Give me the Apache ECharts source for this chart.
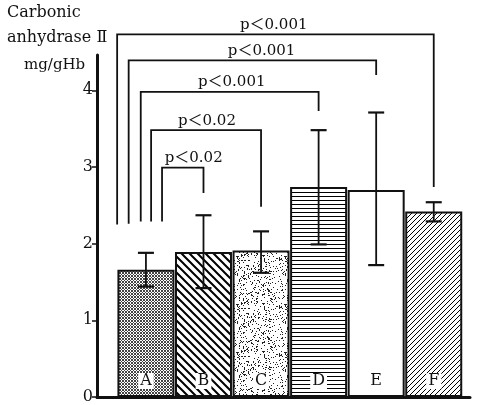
<!DOCTYPE html>
<html>
<head>
<meta charset="utf-8">
<title>Carbonic anhydrase II</title>
<script src="https://cdn.jsdelivr.net/npm/echarts@6/dist/echarts.min.js"></script>
<style>
html,body{margin:0;padding:0;background:#fff;}
#main{width:478px;height:405px;}
</style>
</head>
<body>
<div id="main"></div>
<script>
// groups and measured values (mg/gHb)
var groups = ['A', 'B', 'C', 'D', 'E', 'F'];
var means  = [1.66, 1.89, 1.91, 2.74, 2.70, 2.42];
var errLow = [1.44, 1.42, 1.62, 1.99, 1.72, 2.29];
var errHigh= [1.88, 2.37, 2.16, 3.48, 3.71, 2.54];
var yTicks = [0, 1, 2, 3, 4];

// significance brackets: from x (index units), to group index, top level, left foot, right foot, label x
var brFrom  = [-0.50, -0.30, -0.09, 0.09, 0.28];
var brTo    = [5, 4, 3, 2, 1];
var brTop   = [4.73, 4.39, 3.98, 3.48, 2.99];
var brLeft  = [2.25, 2.26, 2.29, 2.29, 2.29];
var brRight = [2.74, 4.20, 3.73, 2.48, 2.66];
var brText  = ['p＜0.001', 'p＜0.001', 'p＜0.001', 'p＜0.02', 'p＜0.02'];
var brTextX = [2.22, 2.01, 1.49, 1.06, 0.83];

var serif = '"DejaVu Serif","Liberation Serif","Noto Sans CJK JP",serif';

function tile(w, h, draw) {
	var c = document.createElement('canvas');
	c.width = w; c.height = h;
	var ctx = c.getContext('2d');
	ctx.fillStyle = '#fff';
	ctx.fillRect(0, 0, w, h);
	ctx.fillStyle = '#000';
	ctx.strokeStyle = '#000';
	draw(ctx);
	return {image: c, repeat: 'repeat'};
}

// fill patterns for the six bars
var patterns = [
	tile(3, 3, function (g) { // fine crosshatch dots
		g.fillStyle = '#444';
		g.fillRect(0, 0, 1, 1); g.fillRect(1, 1, 1, 1); g.fillRect(2, 2, 1, 1);
		g.fillRect(2, 0, 1, 1); g.fillRect(0, 2, 1, 1);
	}),
	tile(8, 8, function (g) { // backslash lines
		g.lineWidth = 2;
		g.beginPath();
		g.moveTo(-2, -2); g.lineTo(10, 10);
		g.moveTo(-10, -2); g.lineTo(2, 10);
		g.moveTo(6, -2); g.lineTo(18, 10);
		g.stroke();
	}),
	tile(48, 48, function (g) { // stipple
		var s = 12345;
		function next() {
			s ^= s << 13; s ^= s >>> 17; s ^= s << 5;
			return (s >>> 0) / 4294967296;
		}
		g.fillStyle = '#222';
		for (var i = 0; i < 360; i++) {
			var x = Math.floor(next() * 48);
			var y = Math.floor(next() * 48);
			g.fillRect(x, y, 1, 1);
		}
	}),
	tile(4, 4, function (g) { // horizontal lines
		g.fillRect(0, 0, 4, 1);
	}),
	'#fff',
	tile(5, 5, function (g) { // slash lines
		g.lineWidth = 1;
		g.beginPath();
		g.moveTo(-1, 6); g.lineTo(6, -1);
		g.moveTo(-6, 6); g.lineTo(1, -1);
		g.moveTo(4, 6); g.lineTo(11, -1);
		g.stroke();
	})
];

var barData = groups.map(function (name, i) {
	return {
		value: [i, means[i]],
		name: name,
		itemStyle: {color: patterns[i]}
	};
});

var errData = groups.map(function (n, i) { return [i, errLow[i], errHigh[i]]; });

var brData = brText.map(function (t, i) {
	return [brFrom[i], brTo[i], brTop[i], brLeft[i], brRight[i], brTextX[i], i];
});

var myChart = echarts.init(document.getElementById('main'), null, {renderer: 'canvas'});

var option = {
	animation: false,
	backgroundColor: '#fff',
	grid: {left: 97, right: 8, top: 55, bottom: 5},
	xAxis: {
		type: 'value',
		min: -0.85,
		max: 5.63,
		axisLine: {show: true, onZero: false, lineStyle: {color: '#111', width: 3}},
		axisTick: {show: false},
		axisLabel: {show: false},
		splitLine: {show: false}
	},
	yAxis: {
		type: 'value',
		min: 0,
		max: 4.46,
		axisLine: {show: true, onZero: false, lineStyle: {color: '#111', width: 3}},
		axisTick: {show: true, length: 5, customValues: yTicks, lineStyle: {color: '#111', width: 1.5}},
		axisLabel: {
			customValues: yTicks,
			color: '#111', fontFamily: serif, fontSize: 16, margin: 4
		},
		splitLine: {show: false}
	},
	graphic: [
		{type: 'text', left: 7, top: 5, style: {text: 'Carbonic', font: '16px ' + serif, fill: '#111'}},
		{type: 'text', left: 7, top: 30, style: {text: 'anhydrase Ⅱ', font: '16px ' + serif, fill: '#111'}},
		{type: 'text', left: 24, top: 58, style: {text: 'mg/gHb', font: '15px ' + serif, fill: '#111'}}
	],
	series: [{
		type: 'bar',
		barWidth: 57,
		data: barData,
		itemStyle: {borderColor: '#111', borderWidth: 2},
		label: {
			show: true,
			position: 'insideBottom',
			distance: 8,
			formatter: '{b}',
			color: '#111',
			fontFamily: serif,
			fontSize: 16,
			backgroundColor: '#fff',
			padding: [0, 2, 0, 2]
		},
		z: 2
	}, {
		type: 'custom',
		data: errData,
		z: 5,
		clip: false,
		renderItem: function (params, api) {
			var x = api.value(0);
			var lo = api.coord([x, api.value(1)]);
			var hi = api.coord([x, api.value(2)]);
			var hw = 8;
			var st = {stroke: '#111', lineWidth: 1.8};
			return {type: 'group', children: [
				{type: 'line', shape: {x1: lo[0], y1: lo[1], x2: hi[0], y2: hi[1]}, style: st},
				{type: 'line', shape: {x1: lo[0] - hw, y1: lo[1], x2: lo[0] + hw, y2: lo[1]}, style: {stroke: '#111', lineWidth: 2.2}},
				{type: 'line', shape: {x1: hi[0] - hw, y1: hi[1], x2: hi[0] + hw, y2: hi[1]}, style: {stroke: '#111', lineWidth: 2.2}}
			]};
		}
	}, {
		type: 'custom',
		data: brData,
		z: 5,
		clip: false,
		renderItem: function (params, api) {
			var x1 = api.value(0), x2 = api.value(1);
			var top = api.value(2);
			var pLeftB = api.coord([x1, api.value(3)]);
			var pLeftT = api.coord([x1, top]);
			var pRightT = api.coord([x2, top]);
			var pRightB = api.coord([x2, api.value(4)]);
			var pText = api.coord([api.value(5), top]);
			var idx = api.value(6);
			return {type: 'group', children: [
				{type: 'polyline', shape: {points: [pLeftB, pLeftT, pRightT, pRightB]},
					style: {stroke: '#111', lineWidth: 1.8, fill: null}},
				{type: 'text', x: pText[0], y: pText[1] - 2,
					style: {text: brText[idx], font: '15px ' + serif, fill: '#111',
						align: 'center', verticalAlign: 'bottom'}}
			]};
		}
	}]
};

myChart.setOption(option);
</script>
</body>
</html>
